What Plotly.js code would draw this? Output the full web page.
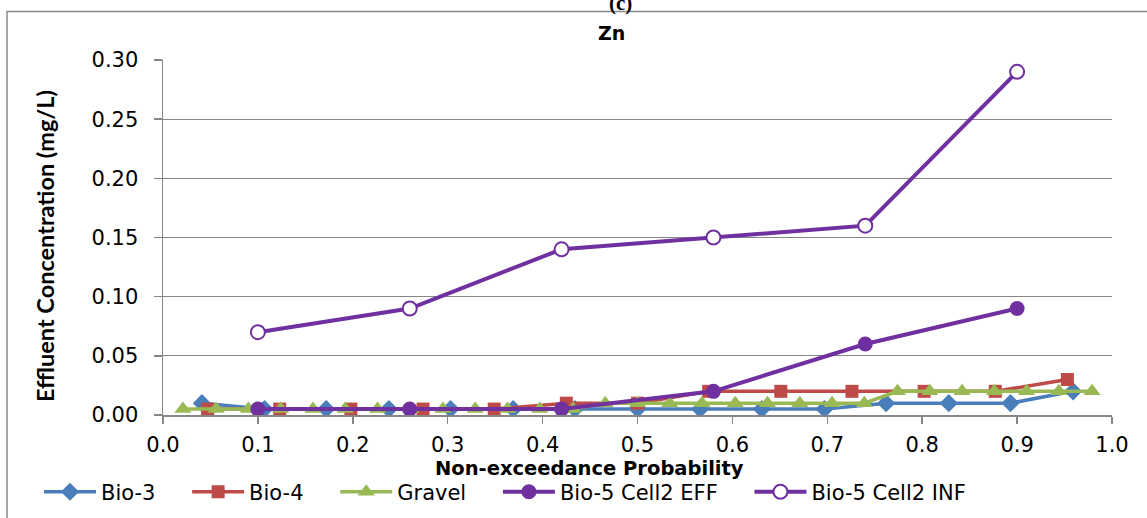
<!DOCTYPE html>
<html>
<head>
<meta charset="utf-8">
<script src="https://cdn.plot.ly/plotly-3.0.1.min.js"></script>
<style>
html,body{margin:0;padding:0;background:#fff;}
#chart{width:1147px;height:518px;}
</style>
</head>
<body>
<div id="chart"></div>
<script>
// Non-exceedance probability positions
const bio3X = [0.041, 0.107, 0.172, 0.238, 0.303, 0.369, 0.434, 0.500, 0.566, 0.631, 0.697, 0.762, 0.828, 0.893, 0.959];
const bio3Y = [0.010, 0.005, 0.005, 0.005, 0.005, 0.005, 0.005, 0.005, 0.005, 0.005, 0.005, 0.010, 0.010, 0.010, 0.020];

const bio4X = [0.047, 0.123, 0.198, 0.274, 0.349, 0.425, 0.500, 0.575, 0.651, 0.726, 0.802, 0.877, 0.953];
const bio4Y = [0.005, 0.005, 0.005, 0.005, 0.005, 0.010, 0.010, 0.020, 0.020, 0.020, 0.020, 0.020, 0.030];

const gravelX = [0.021, 0.056, 0.090, 0.124, 0.158, 0.192, 0.226, 0.261, 0.295, 0.329, 0.363, 0.397, 0.432, 0.466, 0.500,
                 0.534, 0.568, 0.603, 0.637, 0.671, 0.705, 0.739, 0.774, 0.808, 0.842, 0.876, 0.910, 0.944, 0.979];
const gravelY = [0.005, 0.005, 0.005, 0.005, 0.005, 0.005, 0.005, 0.005, 0.005, 0.005, 0.005, 0.005, 0.005, 0.010, 0.010,
                 0.010, 0.010, 0.010, 0.010, 0.010, 0.010, 0.010, 0.020, 0.020, 0.020, 0.020, 0.020, 0.020, 0.020];

const bio5X = [0.10, 0.26, 0.42, 0.58, 0.74, 0.90];
const effY = [0.005, 0.005, 0.005, 0.020, 0.060, 0.090];
const infY = [0.070, 0.090, 0.140, 0.150, 0.160, 0.290];

const seriesNames = ["Bio-3", "Bio-4", "Gravel", "Bio-5 Cell2 EFF", "Bio-5 Cell2 INF"];
const xTickVals = [0, 0.1, 0.2, 0.3, 0.4, 0.5, 0.6, 0.7, 0.8, 0.9, 1.0];
const yTickVals = [0, 0.05, 0.10, 0.15, 0.20, 0.25, 0.30];

const chartTitle = "Zn";
const panelLabel = "(c)";
const xTitle = "Non-exceedance Probability";
const yTitle = "Effluent Concentration (mg/L)";

const BLUE = "#4A7EBB", RED = "#BE4B48", GREEN = "#98B954", PURPLE = "#7030A0";
const TXT = "DejaVu Sans, Open Sans, sans-serif";
const PAD = "\u00A0\u00A0\u00A0\u00A0";

const traces = [
  {x: bio3X, y: bio3Y, name: seriesNames[0] + PAD, mode: "lines+markers",
   line: {color: BLUE, width: 3.5}, marker: {symbol: "diamond", size: 14, color: BLUE}},
  {x: bio4X, y: bio4Y, name: seriesNames[1] + PAD, mode: "lines+markers",
   line: {color: RED, width: 3.5}, marker: {symbol: "square", size: 13, color: RED}},
  {x: gravelX, y: gravelY, name: seriesNames[2] + PAD, mode: "lines+markers",
   line: {color: GREEN, width: 3.5}, marker: {symbol: "triangle-up", size: 15, color: GREEN}},
  {x: bio5X, y: effY, name: seriesNames[3] + PAD, mode: "lines+markers",
   line: {color: PURPLE, width: 4}, marker: {symbol: "circle", size: 15, color: PURPLE}},
  {x: bio5X, y: infY, name: seriesNames[4], mode: "lines+markers",
   line: {color: PURPLE, width: 4}, marker: {symbol: "circle", size: 14, color: "#ffffff", line: {color: PURPLE, width: 2}}}
];

const layout = {
  width: 1147, height: 518,
  paper_bgcolor: "#ffffff", plot_bgcolor: "#ffffff",
  margin: {l: 163, r: 35, t: 60, b: 103},
  font: {family: TXT, size: 21, color: "#000000"},
  showlegend: true,
  legend: {orientation: "h", xref: "container", yref: "container", x: 0.034, xanchor: "left", y: 0.050, yanchor: "middle",
           font: {family: TXT, size: 21, color: "#000"}, itemwidth: 52, bgcolor: "rgba(0,0,0,0)"},
  xaxis: {
    range: [0, 1], tickvals: xTickVals, tickformat: ".1f",
    showgrid: false, zeroline: false, showline: true, linecolor: "#868686", linewidth: 1.5,
    ticks: "outside", ticklen: 7, tickcolor: "#868686", tickwidth: 1.5, ticklabelstandoff: 3,
    tickfont: {family: TXT, size: 21},
    automargin: false, fixedrange: true
  },
  yaxis: {
    range: [0, 0.30], tickvals: yTickVals, tickformat: ".2f",
    showgrid: true, gridcolor: "#868686", gridwidth: 1.2, zeroline: false,
    showline: true, linecolor: "#868686", linewidth: 1.5,
    ticks: "outside", ticklen: 8, tickcolor: "#868686", tickwidth: 1.5, ticklabelstandoff: 11,
    tickfont: {family: TXT, size: 21},
    automargin: false, fixedrange: true
  },
  annotations: [
    {text: "<b>" + chartTitle + "</b>", xref: "paper", yref: "paper", x: 0.473, y: 1.077,
     xanchor: "center", yanchor: "middle", showarrow: false, font: {family: TXT, size: 19, color: "#000"}},
    {text: "<b>" + panelLabel + "</b>", xref: "paper", yref: "paper", x: 0.482, y: 1.16,
     xanchor: "center", yanchor: "middle", showarrow: false, font: {family: "Liberation Serif, serif", size: 21, color: "#000"}},
    {text: "<b>" + xTitle + "</b>", xref: "paper", yref: "paper", x: 0.449, y: -0.152,
     xanchor: "center", yanchor: "middle", showarrow: false, font: {family: TXT, size: 19.5, color: "#000"}},
    {text: "<b>" + yTitle + "</b>", xref: "paper", yref: "paper", x: -0.1243, y: 0.476, textangle: -90,
     xanchor: "center", yanchor: "middle", showarrow: false, font: {family: "Lato, Open Sans, sans-serif", size: 23.5, color: "#000"}}
  ],
  shapes: [
    {type: "rect", xref: "paper", yref: "paper", x0: -0.1644, x1: 1.08, y0: -0.45, y1: 1.1366,
     line: {color: "#8a8a8a", width: 1.5}, fillcolor: "rgba(0,0,0,0)", layer: "below"}
  ]
};

Plotly.newPlot("chart", traces, layout, {displayModeBar: false, staticPlot: true});
</script>
</body>
</html>
